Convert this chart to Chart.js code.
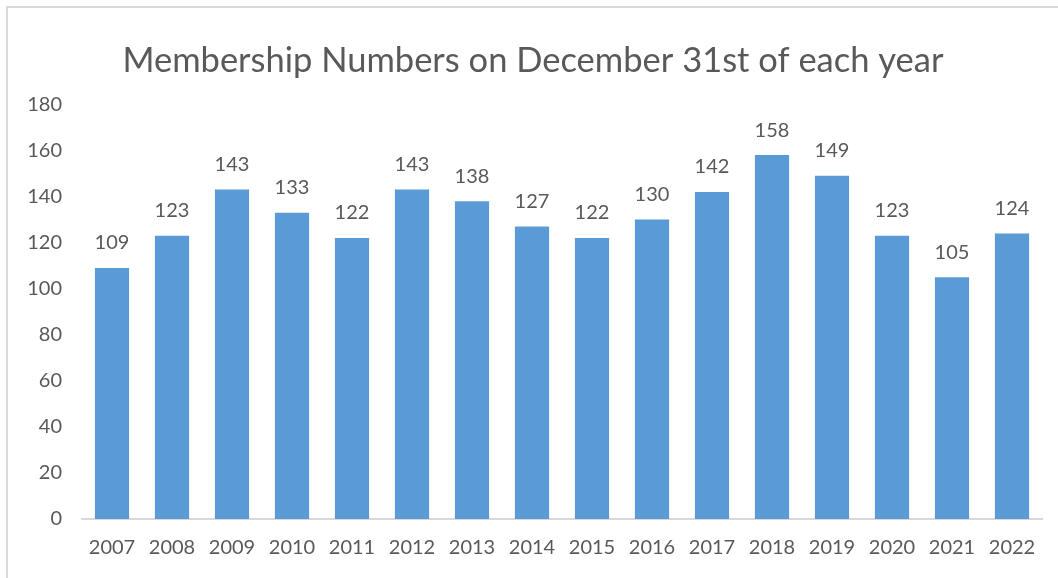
<!DOCTYPE html>
<html>
<head>
<meta charset="utf-8">
<script src="https://cdn.jsdelivr.net/npm/chart.js@4.4.0/dist/chart.umd.min.js"></script>
<style>
  body { margin: 0; background: #fff; }
  .chart-box {
    position: absolute; left: 6px; top: 6px; width: 1060px; height: 580px;
    border-left: 2px solid #d9d9d9; border-top: 2px solid #d9d9d9;
  }
  #membersChart { position: absolute; left: 0; top: 0; }
</style>
</head>
<body>
<div class="chart-box"></div>
<canvas id="membersChart" width="1058" height="578"></canvas>
<script>
const anos = ["2007", "2008", "2009", "2010", "2011", "2012", "2013", "2014",
  "2015", "2016", "2017", "2018", "2019", "2020", "2021", "2022"];
const membros = [109, 123, 143, 133, 122, 143, 138, 127, 122, 130, 142, 158, 149, 123, 105, 124];
const tituloGrafico = "Membership Numbers on December 31st of each year";

const corTexto = "#595959";
const fonte = "Lato, 'Open Sans', sans-serif";

// rotulos de valor acima das barras
const valoresPlugin = {
  id: "valores",
  afterDatasetsDraw(chart) {
    const ctx = chart.ctx;
    const meta = chart.getDatasetMeta(0);
    ctx.save();
    ctx.fillStyle = corTexto;
    ctx.font = "20px " + fonte;
    ctx.textAlign = "center";
    ctx.textBaseline = "bottom";
    meta.data.forEach((bar, i) => {
      ctx.fillText(String(membros[i]), bar.x, bar.y - 15);
    });
    ctx.restore();
  },
};

function renderMembersChart() {
  const canvas = document.getElementById("membersChart");
  const ctx = canvas.getContext("2d");

  new Chart(ctx, {
    type: "bar",
    data: {
      labels: anos,
      datasets: [
        {
          data: membros,
          backgroundColor: "#5b9bd5",
          categoryPercentage: 1,
          barPercentage: 0.57,
        },
      ],
    },
    options: {
      responsive: false,
      animation: false,
      layout: { padding: { left: 24, right: 16, top: 0, bottom: 0 } },
      plugins: {
        legend: { display: false },
        tooltip: { enabled: false },
        title: {
          display: true,
          text: tituloGrafico,
          color: corTexto,
          font: { family: fonte, size: 34.5, weight: "normal" },
          padding: { top: 40, bottom: 23 },
        },
      },
      scales: {
        y: {
          min: 0,
          max: 180,
          ticks: {
            stepSize: 20,
            color: corTexto,
            padding: 20,
            font: { family: fonte, size: 20 },
          },
          grid: { display: false, drawTicks: false },
          border: { display: false },
          afterFit(scale) { scale.width = 58; },
        },
        x: {
          ticks: {
            color: corTexto,
            padding: 17,
            font: { family: fonte, size: 20 },
          },
          grid: { display: false, drawTicks: false },
          border: { display: true, color: "#d9d9d9", width: 2 },
          afterFit(scale) { scale.height = 59; },
        },
      },
    },
    plugins: [valoresPlugin],
  });
}

document.addEventListener("DOMContentLoaded", renderMembersChart);
</script>
</body>
</html>
